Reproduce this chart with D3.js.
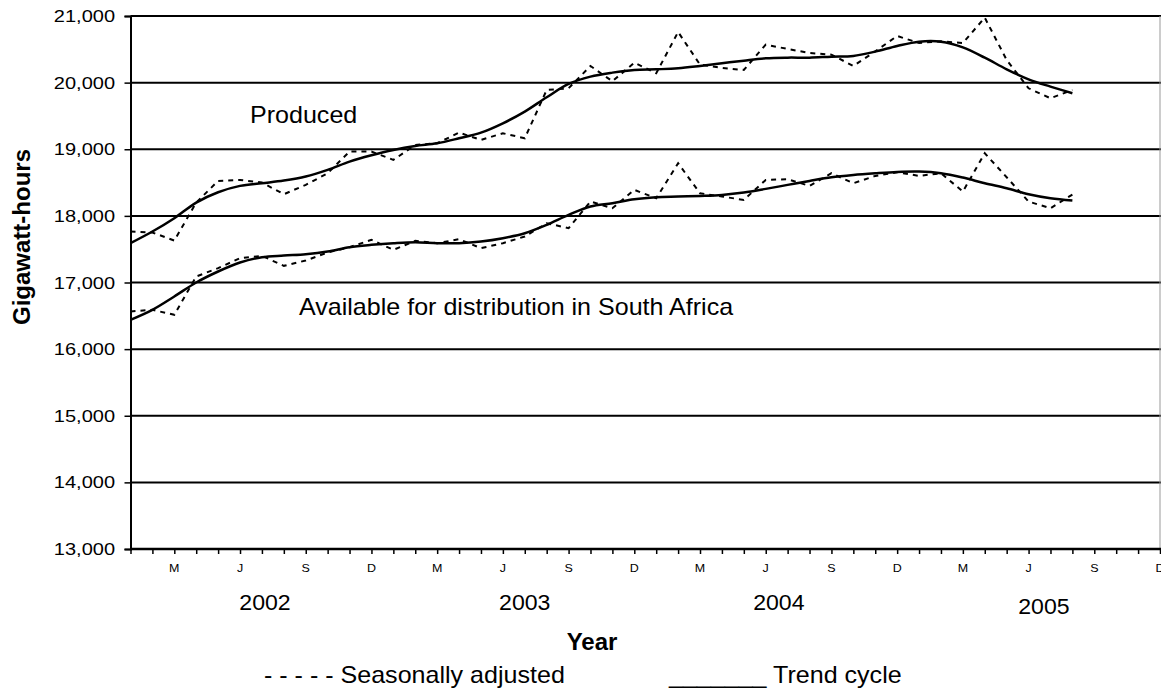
<!DOCTYPE html>
<html>
<head>
<meta charset="utf-8">
<script src="https://cdn.jsdelivr.net/npm/d3@7"></script>
<style>
  body { margin: 0; background: #fff; }
  svg { display: block; font-family: "Liberation Sans", Arial, sans-serif; }
</style>
</head>
<body>
<svg width="1161" height="690"></svg>
<script>
// monthly values, Jan 2002 .. Aug 2005 (gigawatt-hours)
var producedSA = [17765, 17750, 17630, 18200, 18525, 18540, 18500, 18325, 18465, 18640, 18965, 18965,
  18840, 19065, 19090, 19250, 19140, 19240, 19165, 19890, 19915, 20250, 20020, 20300,
  20140, 20760, 20270, 20220, 20190, 20570, 20505, 20445, 20420, 20250, 20470, 20700,
  20595, 20620, 20595, 20975, 20340, 19915, 19765, 19890];
var producedTrend = [17590, 17765, 17965, 18200, 18355, 18450, 18490, 18530, 18590, 18690, 18815, 18910,
  18990, 19050, 19090, 19165, 19250, 19390, 19565, 19780, 19980, 20090, 20150, 20190,
  20200, 20215, 20250, 20290, 20330, 20365, 20375, 20375, 20390, 20400, 20465, 20550,
  20615, 20615, 20530, 20375, 20200, 20050, 19940, 19840];
var availableSA = [16565, 16590, 16515, 17090, 17215, 17365, 17400, 17250, 17330, 17450, 17530, 17640,
  17490, 17625, 17590, 17650, 17515, 17590, 17690, 17890, 17815, 18215, 18115, 18390,
  18265, 18790, 18340, 18290, 18240, 18540, 18550, 18450, 18640, 18490, 18600, 18655,
  18600, 18640, 18365, 18940, 18580, 18215, 18115, 18320];
var availableTrend = [16440, 16590, 16790, 17000, 17165, 17300, 17380, 17405, 17425, 17465, 17530, 17565,
  17590, 17605, 17590, 17590, 17615, 17665, 17740, 17865, 18015, 18140, 18190, 18250,
  18280, 18290, 18300, 18315, 18350, 18405, 18465, 18525, 18580, 18615, 18640, 18660,
  18665, 18640, 18575, 18490, 18415, 18325, 18265, 18230];

var monthInitials = ["J", "F", "M", "A", "M", "J", "J", "A", "S", "O", "N", "D"];
var years = ["2002", "2003", "2004", "2005"];
var yTicks = [13000, 14000, 15000, 16000, 17000, 18000, 19000, 20000, 21000];

var svg = d3.select("svg"),
    plotL = 130.5, plotR = 1160, plotT = 16, plotB = 549;

var x = d3.scaleLinear().domain([0, 47]).range([plotL, plotR]);
var y = d3.scaleLinear().domain([13000, 21000]).range([plotB, plotT]);

// places a horizontally stretched text label
function label(tx, ty, str, size, sx, anchor, weight) {
  return svg.append("text")
      .attr("transform", "translate(" + tx + "," + ty + ") scale(" + sx + ",1)")
      .attr("text-anchor", anchor || "start")
      .attr("font-size", size)
      .attr("font-weight", weight || "normal")
      .attr("fill", "#000")
      .text(str);
}

// gridlines
svg.append("g").selectAll("line")
  .data(yTicks.slice(1))
  .enter().append("line")
    .attr("x1", plotL).attr("x2", 1161)
    .attr("y1", function(d) { return y(d); })
    .attr("y2", function(d) { return y(d); })
    .attr("stroke", "#000")
    .attr("stroke-width", 2);

// right border
svg.append("line")
    .attr("x1", plotR).attr("x2", plotR).attr("y1", plotT).attr("y2", plotB)
    .attr("stroke", "#999").attr("stroke-width", 1);

// y axis
var yAxis = svg.append("g")
    .attr("transform", "translate(" + plotL + ",0)")
    .call(d3.axisLeft(y).tickValues(yTicks).tickSize(6).tickPadding(0).tickFormat(function() { return ""; }));
yAxis.select(".domain").attr("stroke", "#000").attr("stroke-width", 2);
yAxis.selectAll(".tick line").attr("stroke", "#000").attr("stroke-width", 1.5);
yTicks.forEach(function(v) {
  label(115, y(v) + 6, d3.format(",")(v), 16, 1.25, "end");
});

// x axis
var xAxis = svg.append("g")
    .attr("transform", "translate(0," + plotB + ")")
    .call(d3.axisBottom(x).tickValues(d3.range(0, 48)).tickSize(5).tickFormat(function() { return ""; }));
xAxis.select(".domain").attr("stroke", "#000").attr("stroke-width", 2.5).attr("d", "M" + plotL + ",0H1161");
xAxis.selectAll(".tick line").attr("stroke", "#000").attr("stroke-width", 1.5);
d3.range(0, 48).filter(function(i) { return i % 3 === 2; }).forEach(function(i) {
  label(x(i), 572, monthInitials[i % 12], 10, 1.25, "middle");
});
var yearPos = [6.14, 18.0, 29.6, 41.7], yearBase = [610, 610, 610, 614];
years.forEach(function(yr, k) {
  label(x(yearPos[k]), yearBase[k], yr, 22, 1.05, "middle");
});

// series
var straight = d3.line()
    .x(function(d, i) { return x(i); })
    .y(function(d) { return y(d); });
var smooth = d3.line()
    .x(function(d, i) { return x(i); })
    .y(function(d) { return y(d); })
    .curve(d3.curveCatmullRom.alpha(0.5));

[producedSA, availableSA].forEach(function(s) {
  svg.append("path")
      .attr("d", straight(s))
      .attr("fill", "none")
      .attr("stroke", "#000")
      .attr("stroke-width", 2)
      .attr("stroke-dasharray", "5,5");
});
[producedTrend, availableTrend].forEach(function(s) {
  svg.append("path")
      .attr("d", smooth(s))
      .attr("fill", "none")
      .attr("stroke", "#000")
      .attr("stroke-width", 2.5);
});

// annotations
label(250, 123, "Produced", 23, 1.09);
label(299, 315, "Available for distribution in South Africa", 23, 1.09);

// axis titles
svg.append("text")
    .attr("transform", "translate(30,237) rotate(-90)")
    .attr("text-anchor", "middle")
    .attr("font-size", 24)
    .attr("font-weight", "bold")
    .text("Gigawatt-hours");
label(592, 650, "Year", 24, 1.0, "middle", "bold");

// legend
label(264, 683, "- - - - - Seasonally adjusted", 23, 1.09);
label(669, 683, "_______ Trend cycle", 23, 1.09);
</script>
</body>
</html>
